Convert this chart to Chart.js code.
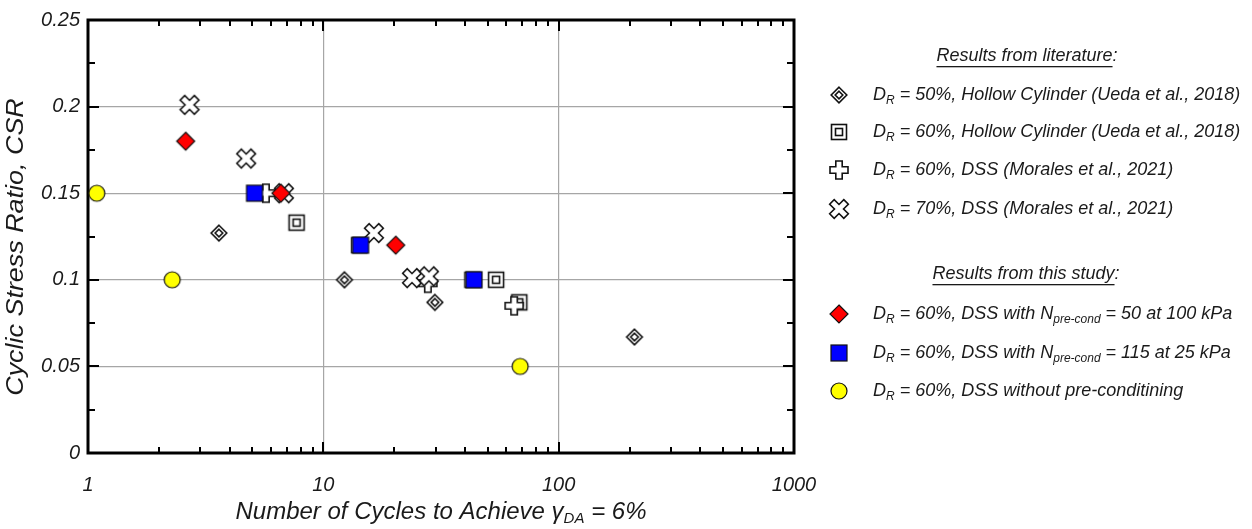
<!DOCTYPE html>
<html>
<head>
<meta charset="utf-8">
<script src="https://cdn.jsdelivr.net/npm/chart.js@4.4.1/dist/chart.umd.min.js"></script>
<style>
  html, body { margin: 0; padding: 0; background: #fff; }
  #wrap { width: 1252px; height: 529px; }
</style>
</head>
<body>
<div id="wrap"><canvas id="chart"></canvas></div>
<script>
// --- data ---
const xTicks = [1, 10, 100, 1000];
const yTicks = [0, 0.05, 0.1, 0.15, 0.2, 0.25];

// literature
const ueda50N   = [3.6, 12.3, 29.8, 210];
const ueda50CSR = [0.127, 0.1, 0.087, 0.067];
const ueda60N   = [7.7, 14.2, 43, 54.2, 68];
const ueda60CSR = [0.133, 0.12, 0.1, 0.1, 0.087];
const mor60N    = [5.7, 27.8, 64.7];
const mor60CSR  = [0.15, 0.098, 0.085];
const mor70N    = [2.7, 4.7, 6.8, 16.4, 23.8, 28.1];
const mor70CSR  = [0.201, 0.17, 0.15, 0.127, 0.101, 0.102];
// this study
const pre100N   = [2.6, 6.6, 20.3];
const pre100CSR = [0.18, 0.15, 0.12];
const pre25N    = [5.1, 14.4, 43.7];
const pre25CSR  = [0.15, 0.12, 0.1];
const noPreN    = [1.09, 2.28, 68.6];
const noPreCSR  = [0.15, 0.1, 0.05];

const toPts = (xs, ys) => xs.map((x, i) => ({ x: x, y: ys[i] }));

// --- marker images ---
function makeMarker(kind) {
  const c = document.createElement('canvas');
  const s = 24;
  c.width = s; c.height = s;
  const g = c.getContext('2d');
  const m = s / 2;
  g.lineWidth = 1.6;
  g.strokeStyle = '#111';
  g.lineJoin = 'miter';
  function diamond(r) {
    g.beginPath();
    g.moveTo(m, m - r); g.lineTo(m + r, m); g.lineTo(m, m + r); g.lineTo(m - r, m); g.closePath();
  }
  if (kind === 'ddiamond') {
    diamond(7.8); g.fillStyle = '#fff'; g.fill(); g.stroke();
    diamond(3.8); g.stroke();
  } else if (kind === 'dsquare') {
    g.fillStyle = '#fff';
    g.fillRect(m - 7.5, m - 7.5, 15, 15); g.strokeRect(m - 7.5, m - 7.5, 15, 15);
    g.strokeRect(m - 3.5, m - 3.5, 7, 7);
  } else if (kind === 'plus' || kind === 'cross') {
    const w = 3.2;
    g.save();
    g.translate(m, m);
    if (kind === 'cross') { g.rotate(Math.PI / 4); }
    const L = kind === 'cross' ? 10 : 9;
    g.beginPath();
    g.moveTo(-w, -L); g.lineTo(w, -L); g.lineTo(w, -w); g.lineTo(L, -w); g.lineTo(L, w);
    g.lineTo(w, w); g.lineTo(w, L); g.lineTo(-w, L); g.lineTo(-w, w); g.lineTo(-L, w);
    g.lineTo(-L, -w); g.lineTo(-w, -w); g.closePath();
    g.fillStyle = '#fff'; g.fill(); g.stroke();
    g.restore();
  } else if (kind === 'redDiamond') {
    g.lineWidth = 1.2;
    diamond(9); g.fillStyle = '#ff0000'; g.fill(); g.stroke();
  } else if (kind === 'blueSquare') {
    g.lineWidth = 1.2;
    g.fillStyle = '#0000ff';
    g.fillRect(m - 8, m - 8, 16, 16); g.strokeRect(m - 8, m - 8, 16, 16);
  } else if (kind === 'yellowCircle') {
    g.lineWidth = 1.2;
    g.beginPath(); g.arc(m, m, 8, 0, Math.PI * 2);
    g.fillStyle = '#ffff00'; g.fill(); g.stroke();
  }
  return c;
}

const mk = {
  ddiamond: makeMarker('ddiamond'),
  dsquare: makeMarker('dsquare'),
  plus: makeMarker('plus'),
  cross: makeMarker('cross'),
  red: makeMarker('redDiamond'),
  blue: makeMarker('blueSquare'),
  yellow: makeMarker('yellowCircle')
};

const FONT = '"Liberation Sans", Arial, sans-serif';
const TXT = '#1a1a1a';

// legend rows: [marker, main, sub, rest, sub2, rest2]
const litRows = [
  [mk.ddiamond, 'D', 'R', ' = 50%, Hollow Cylinder (Ueda et al., 2018)'],
  [mk.dsquare, 'D', 'R', ' = 60%, Hollow Cylinder (Ueda et al., 2018)'],
  [mk.plus, 'D', 'R', ' = 60%, DSS (Morales et al., 2021)'],
  [mk.cross, 'D', 'R', ' = 70%, DSS (Morales et al., 2021)']
];
const studyRows = [
  [mk.red, 'D', 'R', ' = 60%, DSS with N', 'pre-cond', ' = 50 at 100 kPa'],
  [mk.blue, 'D', 'R', ' = 60%, DSS with N', 'pre-cond', ' = 115 at 25 kPa'],
  [mk.yellow, 'D', 'R', ' = 60%, DSS without pre-conditining']
];

function drawRich(ctx, parts, x, y, size, subSize) {
  // parts alternate normal / subscript
  let cx = x;
  parts.forEach((p, i) => {
    const sub = i % 2 === 1;
    ctx.font = 'italic ' + (sub ? subSize : size) + 'px ' + FONT;
    ctx.fillText(p, cx, sub ? y + size * 0.3 : y);
    cx += ctx.measureText(p).width;
  });
  return cx;
}

const framePlugin = {
  id: 'frame',
  beforeDatasetsDraw(chart) {
    const { ctx, chartArea: a, scales } = chart;
    ctx.save();
    ctx.strokeStyle = '#000';
    ctx.lineWidth = 2;
    // x ticks, top and bottom
    for (let d = 1; d < 1000; d *= 10) {
      for (let k = 1; k <= 9; k++) {
        const v = d * k;
        if (v <= 1) continue;
        const px = Math.round(scales.x.getPixelForValue(v));
        const len = k === 1 ? 11 : 6;
        ctx.beginPath();
        ctx.moveTo(px, a.bottom); ctx.lineTo(px, a.bottom - len);
        ctx.moveTo(px, a.top); ctx.lineTo(px, a.top + len);
        ctx.stroke();
      }
    }
    // y ticks, left and right
    for (let i = 1; i < 10; i++) {
      const py = Math.round(scales.y.getPixelForValue(i * 0.025));
      const len = i % 2 === 0 ? 11 : 7;
      ctx.beginPath();
      ctx.moveTo(a.left, py); ctx.lineTo(a.left + len, py);
      ctx.moveTo(a.right, py); ctx.lineTo(a.right - len, py);
      ctx.stroke();
    }
    ctx.lineWidth = 3;
    ctx.strokeRect(a.left, a.top, a.right - a.left, a.bottom - a.top);
    ctx.restore();
  },
  afterDraw(chart) {
    const { ctx, chartArea: a } = chart;
    ctx.save();
    ctx.fillStyle = TXT;
    ctx.textBaseline = 'middle';

    // y axis title, a little stretched along its length like the original
    ctx.save();
    ctx.translate(17, 247);
    ctx.rotate(-Math.PI / 2);
    ctx.scale(1.17, 1);
    ctx.font = 'italic 23px ' + FONT;
    ctx.textAlign = 'center';
    ctx.fillText('Cyclic Stress Ratio, CSR', 0, 0);
    ctx.restore();

    // x axis title with subscript
    const size = 24;
    const parts = ['Number of Cycles to Achieve \u03B3', 'DA', ' = 6%'];
    let w = 0;
    parts.forEach((p, i) => {
      ctx.font = 'italic ' + (i % 2 ? 15 : size) + 'px ' + FONT;
      w += ctx.measureText(p).width;
    });
    drawRich(ctx, parts, (a.left + a.right) / 2 - w / 2, 512, size, 15);

    // legend
    const mx = 839, tx = 873;
    function heading(text, cxm, y) {
      ctx.font = 'italic 18px ' + FONT;
      const tw = ctx.measureText(text).width;
      const cw = ctx.measureText(':').width;
      const x0 = cxm - (tw + cw) / 2;
      ctx.fillText(text, x0, y);
      ctx.fillText(':', x0 + tw, y);
      ctx.fillRect(x0, y + 10, tw, 1.3);
    }
    heading('Results from literature', 1027, 56);
    const litY = [95, 132, 170, 209];
    litRows.forEach((r, i) => {
      ctx.drawImage(r[0], mx - 12, litY[i] - 12);
      drawRich(ctx, r.slice(1), tx, litY[i], 18, 12);
    });
    heading('Results from this study', 1026, 274);
    const stY = [314, 353, 391];
    studyRows.forEach((r, i) => {
      ctx.drawImage(r[0], mx - 12, stY[i] - 12);
      drawRich(ctx, r.slice(1), tx, stY[i], 18, 12);
    });
    ctx.restore();
  }
};

const ds = (label, xs, ys, img, order) => ({
  label: label,
  data: toPts(xs, ys),
  pointStyle: img,
  pointRadius: 10,
  showLine: false,
  order: order
});

new Chart(document.getElementById('chart'), {
  type: 'scatter',
  data: {
    datasets: [
      ds('DR = 50%, Hollow Cylinder (Ueda et al., 2018)', ueda50N, ueda50CSR, mk.ddiamond, 6),
      ds('DR = 60%, Hollow Cylinder (Ueda et al., 2018)', ueda60N, ueda60CSR, mk.dsquare, 5),
      ds('DR = 60%, DSS (Morales et al., 2021)', mor60N, mor60CSR, mk.plus, 4),
      ds('DR = 70%, DSS (Morales et al., 2021)', mor70N, mor70CSR, mk.cross, 3),
      ds('DR = 60%, DSS with Npre-cond = 115 at 25 kPa', pre25N, pre25CSR, mk.blue, 2),
      ds('DR = 60%, DSS with Npre-cond = 50 at 100 kPa', pre100N, pre100CSR, mk.red, 1),
      ds('DR = 60%, DSS without pre-conditining', noPreN, noPreCSR, mk.yellow, 0)
    ]
  },
  options: {
    responsive: true,
    maintainAspectRatio: false,
    animation: false,
    layout: { padding: { top: 16, right: 458, left: 0, bottom: 0 } },
    plugins: { legend: { display: false }, tooltip: { enabled: false } },
    scales: {
      x: {
        type: 'logarithmic',
        min: 1, max: 1000,
        afterBuildTicks: s => { s.ticks = xTicks.map(v => ({ value: v })); },
        afterFit: s => { s.height = 76; },
        ticks: {
          color: TXT,
          padding: 20,
          font: { family: FONT, size: 20, style: 'italic' },
          callback: v => String(v),
          maxRotation: 0
        },
        grid: { color: '#a6a6a6', lineWidth: 1.2, drawTicks: false },
        border: { display: false }
      },
      y: {
        min: 0, max: 0.25,
        afterBuildTicks: s => { s.ticks = yTicks.map(v => ({ value: v })); },
        afterFit: s => { s.width = 88; },
        ticks: {
          color: TXT,
          padding: 8,
          font: { family: FONT, size: 20, style: 'italic' },
          callback: v => String(v)
        },
        grid: { color: '#a6a6a6', lineWidth: 1.2, drawTicks: false },
        border: { display: false }
      }
    }
  },
  plugins: [framePlugin]
});
</script>
</body>
</html>
